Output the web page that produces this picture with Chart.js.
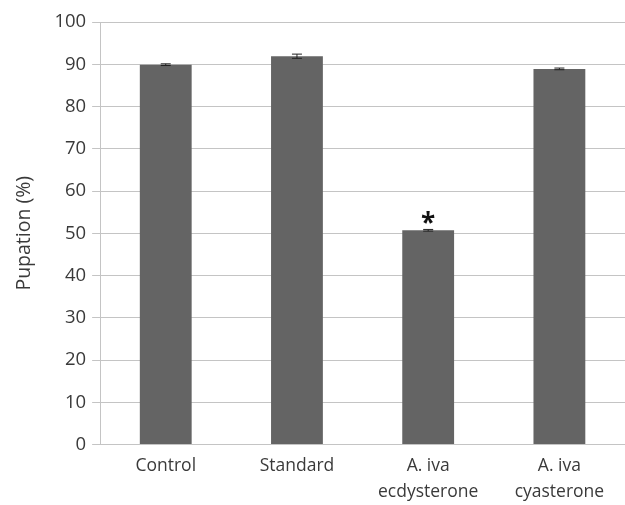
<!DOCTYPE html>
<html>
<head>
<meta charset="utf-8">
<script src="https://cdn.jsdelivr.net/npm/chart.js@4.4.1/dist/chart.umd.min.js"></script>
<style>
  html, body { margin: 0; padding: 0; background: #fff; }
  #wrap { width: 625px; height: 505px; position: relative; }
</style>
</head>
<body>
<div id="wrap"><canvas id="chart"></canvas></div>
<script>
/* ─── Pupation bar chart ─────────────────────────────── */
const categories = [['Control'], ['Standard'], ['A. iva', 'ecdysterone'], ['A. iva', 'cyasterone']];
const pupation   = [89.9, 91.9, 50.7, 88.9];
const errors     = [0.2, 0.5, 0.2, 0.2];
const marks      = ['', '', '*', ''];
const yTicks     = [0, 10, 20, 30, 40, 50, 60, 70, 80, 90, 100];

const TEXT = '#3a3a3a';
const GRID = '#c4c4c4';

// error bars + significance marks, drawn through the chart scales
const errorBarPlugin = {
  id: 'errorBars',
  afterDatasetsDraw(chart) {
    const { ctx, scales: { y } } = chart;
    const meta = chart.getDatasetMeta(0);
    ctx.save();
    ctx.strokeStyle = '#222';
    ctx.lineWidth = 1;
    meta.data.forEach((bar, i) => {
      const cx = bar.x;
      const top = y.getPixelForValue(pupation[i] + errors[i]);
      const bot = y.getPixelForValue(pupation[i] - errors[i]);
      ctx.beginPath();
      ctx.moveTo(cx, top); ctx.lineTo(cx, bot);
      ctx.moveTo(cx - 5, top); ctx.lineTo(cx + 5, top);
      ctx.moveTo(cx - 5, bot); ctx.lineTo(cx + 5, bot);
      ctx.stroke();
      if (marks[i]) {
        ctx.fillStyle = '#111';
        ctx.font = 'bold 26px "Open Sans", sans-serif';
        ctx.textAlign = 'center';
        ctx.textBaseline = 'alphabetic';
        ctx.fillText(marks[i], cx, top + 3);
      }
    });
    ctx.restore();
  },
};

new Chart(document.getElementById('chart').getContext('2d'), {
  type: 'bar',
  data: {
    labels: categories,
    datasets: [{
      data: pupation,
      backgroundColor: '#646464',
      borderWidth: 0,
      categoryPercentage: 1,
      barPercentage: 0.395,
    }],
  },
  options: {
    responsive: true,
    maintainAspectRatio: false,
    animation: false,
    layout: { padding: { top: 22, right: 0, left: 9, bottom: -8 } },
    plugins: {
      legend: { display: false },
      tooltip: { enabled: false },
    },
    scales: {
      x: {
        grid: { display: false, drawTicks: false },
        border: { display: false },
        ticks: {
          color: TEXT,
          font: { family: '"Open Sans", sans-serif', size: 17.5, lineHeight: 1.5 },
          padding: 8,
          maxRotation: 0,
          autoSkip: false,
        },
      },
      y: {
        min: 0,
        max: 100,
        afterBuildTicks: axis => { axis.ticks = yTicks.map(v => ({ value: v })); },
        grid: { color: GRID, lineWidth: 1, tickLength: 8 },
        border: { display: true, color: GRID, width: 1 },
        ticks: {
          color: TEXT,
          font: { family: '"Open Sans", sans-serif', size: 18.5 },
          padding: 6,
        },
        title: {
          display: true,
          text: 'Pupation (%)',
          color: TEXT,
          font: { family: '"Open Sans", sans-serif', size: 19.5 },
          padding: { bottom: 12 },
        },
      },
    },
  },
  plugins: [errorBarPlugin],
});
</script>
</body>
</html>
